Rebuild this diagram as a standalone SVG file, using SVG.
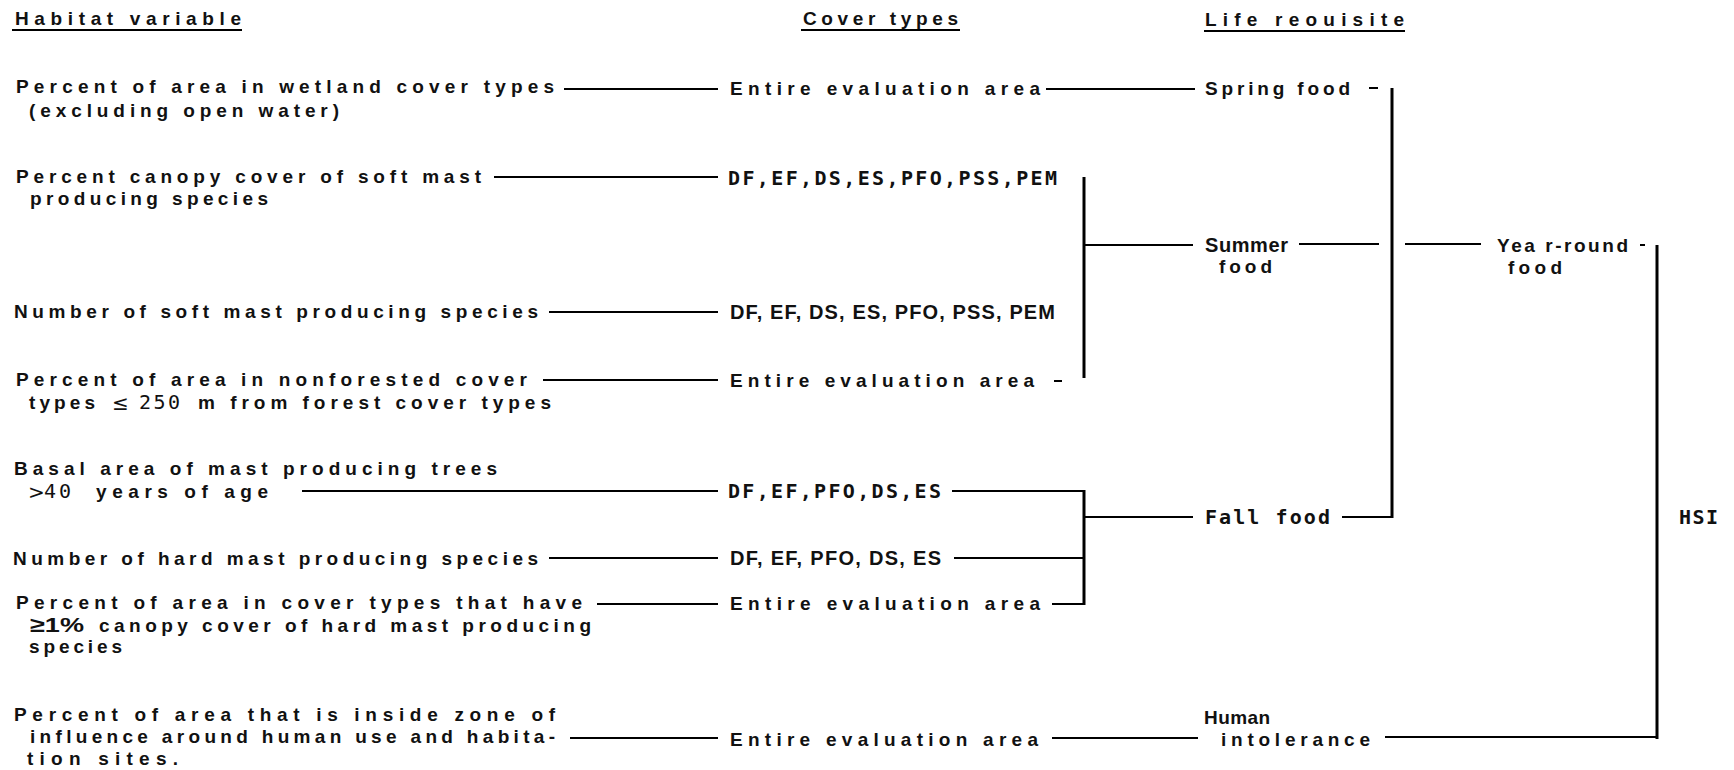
<svg xmlns="http://www.w3.org/2000/svg" width="1734" height="770" viewBox="0 0 1734 770">
<style>
.t{font-family:"Liberation Sans",Arial,Helvetica,sans-serif;font-weight:bold;font-size:19px;fill:#111}
.h{font-family:"Liberation Sans",Arial,Helvetica,sans-serif;font-weight:bold;font-size:20px;fill:#111}
.m{font-family:"DejaVu Sans Mono","Liberation Mono",monospace;font-weight:bold;font-size:20px;fill:#111}
.n{font-family:"DejaVu Sans","Liberation Sans",sans-serif;font-size:20px;fill:#111}
.c line,.u line{stroke:#000;stroke-width:2}
.c line.v{stroke-width:3}
</style>
<rect width="1734" height="770" fill="#fff"/>
<g id="headers" class="u">
  <text class="t" x="15" y="25" textLength="226" lengthAdjust="spacing">Habitat variable</text>
  <line x1="12" y1="30" x2="242" y2="30"/>
  <text class="t" x="803" y="25" textLength="155" lengthAdjust="spacing">Cover types</text>
  <line x1="801" y1="30" x2="960" y2="30"/>
  <text class="t" x="1205" y="26" textLength="199" lengthAdjust="spacing">Life reouisite</text>
  <line x1="1204" y1="31" x2="1405" y2="31"/>
</g>
<g id="hv1"><text class="t" x="16" y="93" textLength="538" lengthAdjust="spacing">Percent of area in wetland cover types</text>
<text class="t" x="29" y="117" textLength="310" lengthAdjust="spacing">(excluding open water)</text></g>
<g id="hv2"><text class="t" x="16" y="183" textLength="465" lengthAdjust="spacing">Percent canopy cover of soft mast</text>
<text class="t" x="30" y="205" textLength="238" lengthAdjust="spacing">producing species</text></g>
<g id="hv3"><text class="t" x="14" y="318" textLength="524" lengthAdjust="spacing">Number of soft mast producing species</text></g>
<g id="hv4"><text class="t" x="16" y="386" textLength="511" lengthAdjust="spacing">Percent of area in nonforested cover</text>
<text class="t" x="29" y="409" textLength="66" lengthAdjust="spacing">types</text>
<text class="n" x="112" y="410">≤</text>
<text class="m" x="139" y="409" textLength="41" lengthAdjust="spacing" style="font-weight:normal">250</text>
<text class="t" x="198" y="409" textLength="353" lengthAdjust="spacing">m from forest cover types</text></g>
<g id="hv5"><text class="t" x="14" y="475" textLength="483" lengthAdjust="spacing">Basal area of mast producing trees</text>
<text class="n" x="28" y="499">&gt;</text>
<text class="m" x="44" y="498" textLength="27" lengthAdjust="spacing" style="font-weight:normal">40</text>
<text class="t" x="96" y="498" textLength="172" lengthAdjust="spacing">years of age</text></g>
<g id="hv6"><text class="t" x="13" y="565" textLength="525" lengthAdjust="spacing">Number of hard mast producing species</text></g>
<g id="hv7"><text class="t" x="16" y="609" textLength="566" lengthAdjust="spacing">Percent of area in cover types that have</text>
<text class="h" x="30" y="632" textLength="54" lengthAdjust="spacingAndGlyphs" style="font-size:21px">≥1%</text>
<text class="t" x="99" y="632" textLength="492" lengthAdjust="spacing">canopy cover of hard mast producing</text>
<text class="t" x="29" y="653" textLength="93" lengthAdjust="spacing">species</text></g>
<g id="hv8"><text class="t" x="14" y="721" textLength="541" lengthAdjust="spacing">Percent of area that is inside zone of</text>
<text class="t" x="30" y="743" textLength="525" lengthAdjust="spacing">influence around human use and habita-</text>
<text class="t" x="27" y="765" textLength="151" lengthAdjust="spacing">tion sites.</text></g>
<g id="ct1"><text class="t" x="730" y="95" textLength="310" lengthAdjust="spacing">Entire evaluation area</text></g>
<g id="ct2"><text class="m" x="728" y="185" textLength="329" lengthAdjust="spacing">DF,EF,DS,ES,PFO,PSS,PEM</text></g>
<g id="ct3"><text class="h" x="730" y="319" textLength="325" lengthAdjust="spacing">DF, EF, DS, ES, PFO, PSS, PEM</text></g>
<g id="ct4"><text class="t" x="730" y="387" textLength="304" lengthAdjust="spacing">Entire evaluation area</text></g>
<g id="ct5"><text class="m" x="728" y="498" textLength="213" lengthAdjust="spacing">DF,EF,PFO,DS,ES</text></g>
<g id="ct6"><text class="h" x="730" y="565" textLength="211" lengthAdjust="spacing">DF, EF, PFO, DS, ES</text></g>
<g id="ct7"><text class="t" x="730" y="610" textLength="310" lengthAdjust="spacing">Entire evaluation area</text></g>
<g id="ct8"><text class="t" x="730" y="746" textLength="308" lengthAdjust="spacing">Entire evaluation area</text></g>
<g id="lr-spring"><text class="t" x="1205" y="95" textLength="145" lengthAdjust="spacing">Spring food</text></g>
<g id="lr-summer"><text class="h" x="1205" y="252" textLength="83" lengthAdjust="spacing">Summer</text>
<text class="t" x="1219" y="273" textLength="53" lengthAdjust="spacing">food</text></g>
<g id="lr-fall"><text class="m" x="1205" y="524" textLength="125" lengthAdjust="spacing">Fall food</text></g>
<g id="lr-human"><text class="h" x="1204" y="724" textLength="66" lengthAdjust="spacing" style="font-size:19px">Human</text>
<text class="t" x="1221" y="746" textLength="149" lengthAdjust="spacing">intolerance</text></g>
<g id="yr-food"><text class="t" x="1497" y="252" textLength="131" lengthAdjust="spacing">Yea r-round</text>
<text class="t" x="1508" y="274" textLength="54" lengthAdjust="spacing">food</text></g>
<g id="hsi"><text class="m" x="1679" y="524" textLength="39" lengthAdjust="spacing">HSI</text></g>
<g id="connectors" class="c">
  <line x1="564" y1="89" x2="718" y2="89"/>
  <line x1="1046" y1="89" x2="1195" y2="89"/>
  <line x1="494" y1="177" x2="718" y2="177"/>
  <line x1="549" y1="312" x2="718" y2="312"/>
  <line x1="543" y1="380" x2="718" y2="380"/>
  <line x1="1054" y1="381" x2="1062" y2="381"/>
  <line class="v" x1="1084" y1="177" x2="1084" y2="378"/>
  <line x1="1084" y1="245" x2="1193" y2="245"/>
  <line x1="302" y1="491" x2="718" y2="491"/>
  <line x1="952" y1="491" x2="1085" y2="491"/>
  <line x1="549" y1="558" x2="718" y2="558"/>
  <line x1="954" y1="558" x2="1084" y2="558"/>
  <line x1="597" y1="604" x2="718" y2="604"/>
  <line x1="1052" y1="604" x2="1085" y2="604"/>
  <line class="v" x1="1084" y1="490" x2="1084" y2="605"/>
  <line x1="1084" y1="517" x2="1193" y2="517"/>
  <line x1="570" y1="738" x2="718" y2="738"/>
  <line x1="1052" y1="738" x2="1198" y2="738"/>
  <line x1="1369" y1="88" x2="1378" y2="88"/>
  <line x1="1299" y1="244" x2="1379" y2="244"/>
  <line x1="1342" y1="517" x2="1392" y2="517"/>
  <line class="v" x1="1392" y1="88" x2="1392" y2="518"/>
  <line x1="1405" y1="244" x2="1481" y2="244"/>
  <line x1="1640" y1="245" x2="1645" y2="245"/>
  <line class="v" x1="1657" y1="245" x2="1657" y2="739"/>
  <line x1="1385" y1="737" x2="1658" y2="737"/>
</g>
</svg>
